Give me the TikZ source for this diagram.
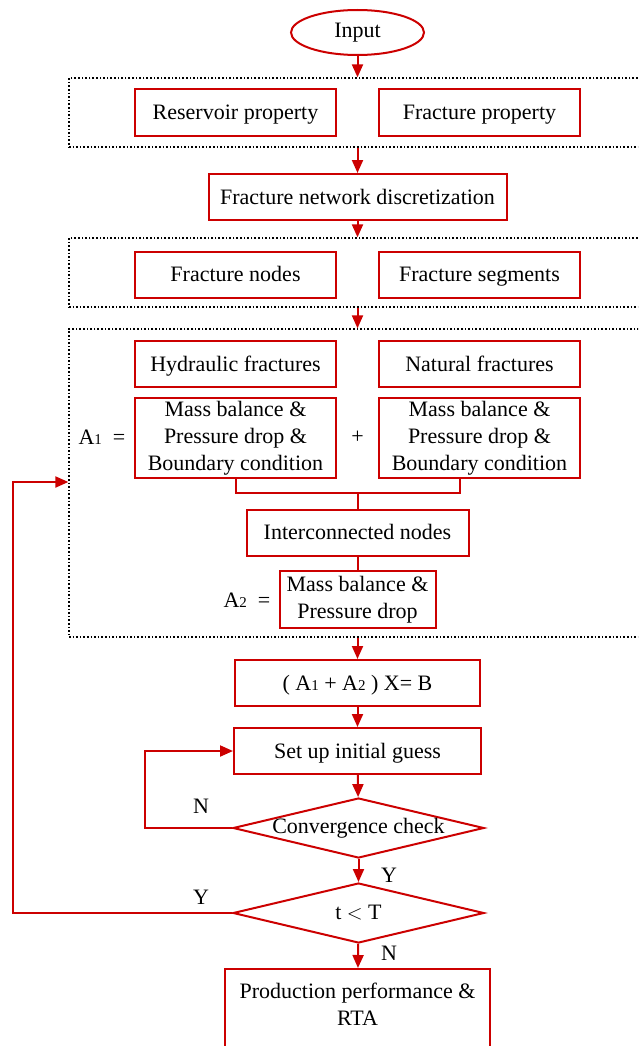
\documentclass[tikz,border=0pt]{standalone}
\usepackage{fontspec}
\setmainfont{Liberation Serif}
\usepackage{tikz}
\usetikzlibrary{arrows.meta, shapes.geometric}
\definecolor{flowred}{RGB}{204,0,0}
\newcommand{\subidx}[1]{{\fontsize{15}{15}\selectfont #1}}

\tikzset{
  box/.style={draw=flowred, line width=2pt, fill=white, align=center,
    inner sep=2pt, minimum height=46pt},
  oneline/.style={box, text height=17pt, text depth=3pt},
  group/.style={draw=black, line width=1.3pt, dash pattern=on 1.6pt off 2pt,
    minimum width=581pt},
  decision/.style={draw=flowred, line width=2pt, diamond, aspect=4.18,
    inner xsep=-8pt, inner ysep=0pt, minimum width=251pt, minimum height=60pt},
  arr/.style={draw=flowred, line width=2pt, -{Triangle[length=13pt, width=11pt]}},
  link/.style={draw=flowred, line width=2pt},
}

\begin{document}
\begin{tikzpicture}[x=1pt, y=-1pt, font=\fontsize{22}{27}\selectfont]
  \useasboundingbox (0,0) rectangle (638,1046);
  \clip (0,0) rectangle (638,1046);
  % Input and property groups
  \node[draw=flowred, line width=2pt, ellipse, minimum width=133pt,
    minimum height=45pt, inner sep=0pt] (input) at (357.5,32.5) {Input};
  \node[group, minimum height=69pt] (grp1) at (359.5,112.5) {};
  \node[oneline, minimum width=201pt] (resprop) at (235.5,112.5) {Reservoir property};
  \node[oneline, minimum width=201pt] (fracprop) at (479.5,112.5) {Fracture property};
  \node[oneline, minimum width=298pt] (fnd) at (357.5,197) {Fracture network discretization};
  \node[group, minimum height=69pt] (grp2) at (359.5,272.5) {};
  \node[oneline, minimum width=201pt] (fnodes) at (235.5,274.5) {Fracture nodes};
  \node[oneline, minimum width=201pt] (fsegs) at (479.5,274.5) {Fracture segments};
  % Matrix assembly group
  \node[group, minimum height=308pt] (grp3) at (359.5,483) {};
  \node[oneline, minimum width=201pt] (hyd) at (235.5,364) {Hydraulic fractures};
  \node[oneline, minimum width=201pt] (nat) at (479.5,364) {Natural fractures};
  \node[box, minimum width=201pt, minimum height=80pt] (mbh) at (235.5,438)
    {Mass balance \&\\Pressure drop \&\\Boundary condition};
  \node[box, minimum width=201pt, minimum height=80pt] (mbn) at (479.5,438)
    {Mass balance \&\\Pressure drop \&\\Boundary condition};
  \node (aone) at (102,437) {A\subidx{1} \ =};
  \node (plus) at (357.5,437) {+};
  \coordinate (joint) at (357.5,493);
  \node[oneline, minimum width=222pt] (inter) at (357.5,532.5) {Interconnected nodes};
  \node[box, minimum width=156pt, minimum height=57pt] (mbi) at (357.5,599.5)
    {Mass balance \&\\Pressure drop};
  \node (atwo) at (247,600) {A\subidx{2} \ =};
  % Solver loop
  \node[oneline, minimum width=245pt] (solve) at (357.5,683)
    {( A\subidx{1} + A\subidx{2} ) X= B};
  \node[oneline, minimum width=247pt] (guess) at (357.5,751) {Set up initial guess};
  \node[decision] (conv) at (358.5,828) {Convergence check};
  \node[decision] (tlt) at (358.5,913) {t $<$ T};
  \node[box, minimum width=265pt, minimum height=92pt, anchor=north] (prod)
    at (357.5,968) {Production performance \&\\RTA\\[-6pt]\mbox{}};
  % Labels
  \node (nconv) at (201,806) {N};
  \node (yconv) at (389,875) {Y};
  \node (ytime) at (201,897) {Y};
  \node (ntime) at (389,953) {N};
  % Connectors
  \draw[arr] (input) -- (input |- grp1.north);
  \draw[arr] (fnd |- grp1.south) -- (fnd);
  \draw[arr] (fnd) -- (fnd |- grp2.north);
  \draw[arr] (fnd |- grp2.south) -- (fnd |- grp3.north);
  \draw[link] (mbh.south) |- (joint) -| ([xshift=-20pt]mbn.south);
  \draw[link] (joint) -- (inter);
  \draw[link] (inter) -- (mbi);
  \draw[arr] (solve |- grp3.south) -- (solve);
  \draw[arr] (solve) -- (guess);
  \draw[arr] (guess) -- (conv);
  \draw[arr] (conv.west) -- ++(-87,0) |- (guess.west);
  \draw[arr] (conv) -- (tlt);
  \draw[arr] (tlt.west) -- ++(-219,0) |- ([yshift=1pt]grp3.west);
  \draw[arr] (tlt) -- (prod);
\end{tikzpicture}
\end{document}
